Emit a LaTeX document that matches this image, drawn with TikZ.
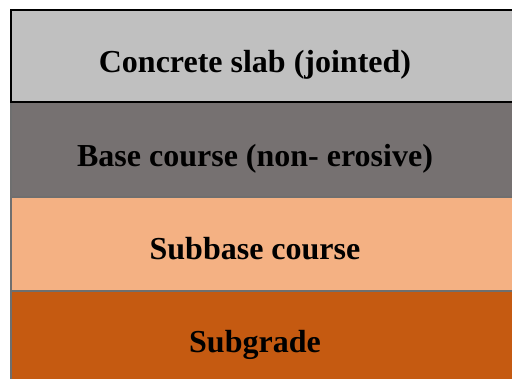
\documentclass[tikz,border=0pt]{standalone}
\usepackage{fontspec}
\setmainfont{Liberation Serif}
\definecolor{slabgray}{HTML}{C0C0C0}
\definecolor{basegray}{HTML}{767171}
\definecolor{subbaseorange}{HTML}{F4B183}
\definecolor{subgradeorange}{HTML}{C55A11}
\definecolor{layeredge}{HTML}{6F6F6F}
\tikzset{
  layer/.style={draw=layeredge, line width=1.5pt},
  slab/.style={draw=black, line width=2pt},
  layertext/.style={font=\fontsize{32}{36}\selectfont\bfseries, text=black, anchor=base, inner sep=0pt}
}
\begin{document}
\begin{tikzpicture}[x=1pt,y=-1pt]
  \useasboundingbox (0,0) rectangle (512,379);
  \fill[white] (0,0) rectangle (512,379);
  % pavement layers, top to bottom
  \begin{scope}
    \clip (0,0) rectangle (512,379);
    \filldraw[layer, fill=subgradeorange] (11,291) rectangle (530,400);
    \filldraw[layer, fill=subbaseorange] (11,197) rectangle (530,291);
    \filldraw[layer, fill=basegray] (11,102) rectangle (530,197);
    \filldraw[slab, fill=slabgray] (11,10.5) rectangle (530,102);
  \end{scope}
  \node[layertext] (slab) at (255,73) {Concrete slab (jointed)};
  \node[layertext] (base) at (255,167) {Base course (non- erosive)};
  \node[layertext] (subbase) at (255,260) {Subbase course};
  \node[layertext] (subgrade) at (255,353) {Subgrade};
\end{tikzpicture}
\end{document}
